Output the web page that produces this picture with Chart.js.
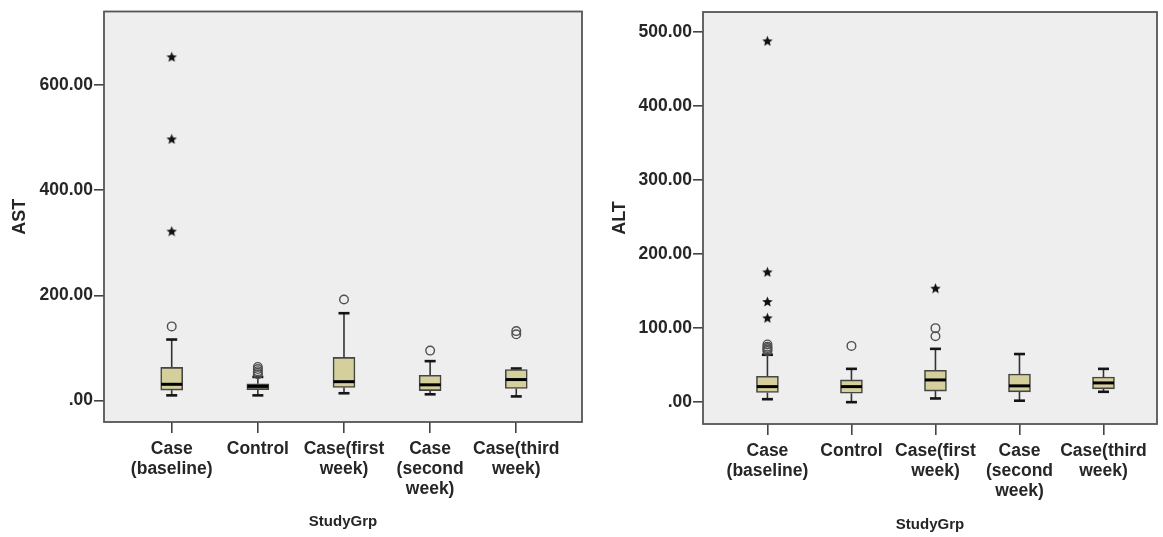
<!DOCTYPE html>
<html>
<head>
<meta charset="utf-8">
<script src="https://cdn.jsdelivr.net/npm/chart.js@4.4.1/dist/chart.umd.min.js"></script>
<style>
  html, body { margin: 0; padding: 0; background: #ffffff; }
  #wrap { position: relative; width: 1163px; height: 537px; overflow: hidden; }
  canvas { position: absolute; top: 0; }
  #ast { left: 0; }
  #alt { left: 588px; }
</style>
</head>
<body>
<div id="wrap">
  <canvas id="ast" width="588" height="537"></canvas>
  <canvas id="alt" width="575" height="537"></canvas>
</div>
<script>
// Study groups (x-axis categories, multi-line labels)
const groups = [
  ["Case", "(baseline)"],
  ["Control"],
  ["Case(first", "week)"],
  ["Case", "(second", "week)"],
  ["Case(third", "week)"]
];

// AST five-number summaries per group
const astLow    = [10, 10, 14, 12, 8];
const astQ1     = [20, 21, 25, 19, 23];
const astMedian = [31, 27, 36, 30, 40];
const astQ3     = [63, 32, 82, 48, 59];
const astHigh   = [116, 45, 166, 75, 61];
// AST outliers (circles) and extreme values (stars)
const astOutliers = [[141], [50, 53, 56, 60, 64], [192], [95], [126, 132]];
const astExtremes = [[322, 497, 653], [], [], [], []];
const astTicks = [0, 200, 400, 600];

// ALT five-number summaries per group
const altLow    = [4, 0, 5, 2, 14];
const altQ1     = [13, 12, 15, 14, 18];
const altMedian = [21, 21, 30, 22, 26];
const altQ3     = [35, 30, 43, 38, 34];
const altHigh   = [64, 45, 72, 65, 45];
// ALT outliers (circles) and extreme values (stars)
const altOutliers = [[69, 71, 73, 75, 78], [76], [89, 100], [], []];
const altExtremes = [[114, 136, 176, 488], [], [154], [], []];
const altTicks = [0, 100, 200, 300, 400, 500];

const FONT = "'Liberation Sans', Arial, Helvetica, sans-serif";
const TEXT = '#262626';
const BOX_FILL = '#d4cf9b';
const BOX_EDGE = '#454545';
const PLOT_BG = '#eeeeee';

// small filled five-point star used for extreme values
function starImage(size) {
  const c = document.createElement('canvas');
  c.width = c.height = size;
  const g = c.getContext('2d');
  const r = size / 2, ri = r * 0.45;
  g.beginPath();
  for (let k = 0; k < 10; k++) {
    const a = -Math.PI / 2 + k * Math.PI / 5;
    const rr = k % 2 ? ri : r;
    g.lineTo(r + rr * Math.cos(a), r + rr * Math.sin(a) + 0.6);
  }
  g.closePath();
  g.fillStyle = '#111';
  g.fill();
  return c;
}
const STAR = starImage(11);

function flatten(lists) {
  const pts = [];
  lists.forEach((vals, i) => vals.forEach(v => pts.push({ x: i, y: v })));
  return pts;
}

// plot background and frame
const plotFrame = {
  id: 'plotFrame',
  beforeDraw(chart) {
    const { ctx, chartArea: a } = chart;
    ctx.save();
    ctx.fillStyle = PLOT_BG;
    ctx.fillRect(a.left, a.top, a.right - a.left, a.bottom - a.top);
    ctx.restore();
  },
  afterDraw(chart) {
    const { ctx, chartArea: a } = chart;
    ctx.save();
    ctx.strokeStyle = '#555555';
    ctx.lineWidth = 1.8;
    ctx.strokeRect(a.left, a.top, a.right - a.left, a.bottom - a.top);
    ctx.restore();
  }
};

// whiskers (behind the boxes) and medians (on top of the boxes)
function boxParts(low, q3, q1, high, median) {
  return {
    id: 'boxParts',
    beforeDatasetsDraw(chart) {
      const { ctx, scales: { x, y } } = chart;
      ctx.save();
      low.forEach((lo, i) => {
        const cx = x.getPixelForValue(i);
        const half = 5.5;
        const segs = [[q3[i], high[i]], [q1[i], lo]];
        segs.forEach(([from, to]) => {
          ctx.strokeStyle = '#333333';
          ctx.lineWidth = 1.6;
          ctx.beginPath();
          ctx.moveTo(cx, y.getPixelForValue(from));
          ctx.lineTo(cx, y.getPixelForValue(to));
          ctx.stroke();
          ctx.strokeStyle = '#151515';
          ctx.lineWidth = 2.6;
          ctx.beginPath();
          ctx.moveTo(cx - half, y.getPixelForValue(to));
          ctx.lineTo(cx + half, y.getPixelForValue(to));
          ctx.stroke();
        });
      });
      ctx.restore();
    },
    afterDatasetDraw(chart, args) {
      if (args.index !== 0) return;
      const { ctx, scales: { x, y } } = chart;
      ctx.save();
      ctx.strokeStyle = '#000';
      ctx.lineWidth = 3;
      median.forEach((m, i) => {
        const cx = x.getPixelForValue(i);
        const py = y.getPixelForValue(m);
        ctx.beginPath();
        ctx.moveTo(cx - 10.5, py);
        ctx.lineTo(cx + 10.5, py);
        ctx.stroke();
      });
      ctx.restore();
    }
  };
}

function buildChart(id, s) {
  return new Chart(document.getElementById(id), {
    type: 'bar',
    data: {
      datasets: [
        {
          type: 'bar',
          data: groups.map((g, i) => ({ x: i, y: [s.q1[i], s.q3[i]] })),
          backgroundColor: BOX_FILL,
          borderColor: BOX_EDGE,
          borderWidth: 1.6,
          borderSkipped: false,
          barThickness: 22
        },
        {
          type: 'scatter',
          data: flatten(s.outliers),
          pointStyle: 'circle',
          pointRadius: 4.3,
          borderColor: '#505050',
          borderWidth: 1.4,
          backgroundColor: 'rgba(0,0,0,0)'
        },
        {
          type: 'scatter',
          data: flatten(s.extremes),
          pointStyle: STAR,
          pointRadius: 5
        }
      ]
    },
    options: {
      responsive: false,
      animation: false,
      events: [],
      layout: { padding: { top: s.padTop, right: s.padRight, left: 0, bottom: 0 } },
      plugins: { legend: { display: false }, tooltip: { enabled: false } },
      scales: {
        x: {
          type: 'linear',
          min: s.xMin,
          max: s.xMax,
          offset: false,
          afterBuildTicks: sc => { sc.ticks = groups.map((g, i) => ({ value: i })); },
          afterFit: sc => { sc.height = s.xHeight; },
          border: { display: false },
          grid: { offset: false, drawOnChartArea: false, tickLength: 11, color: '#444', lineWidth: 1.6 },
          ticks: {
            padding: 6,
            color: TEXT,
            maxRotation: 0,
            autoSkip: false,
            font: { family: FONT, size: 17.5, weight: 'bold', lineHeight: 1.15 },
            callback: v => groups[Math.round(v)]
          },
          title: {
            display: true,
            text: 'StudyGrp',
            color: TEXT,
            font: { family: FONT, size: 15, weight: 'bold' },
            padding: { top: 0, bottom: s.xTitlePad }
          }
        },
        y: {
          min: s.yMin,
          max: s.yMax,
          afterBuildTicks: sc => { sc.ticks = s.ticks.map(v => ({ value: v })); },
          afterFit: sc => { sc.width = s.yWidth; },
          border: { display: false },
          grid: { drawOnChartArea: false, tickLength: 10, color: '#444', lineWidth: 1.6 },
          ticks: {
            padding: 1,
            color: TEXT,
            font: { family: FONT, size: 17.5, weight: 'bold' },
            callback: v => (v === 0 ? '.00' : v.toFixed(2))
          },
          title: {
            display: true,
            text: s.title,
            color: TEXT,
            font: { family: FONT, size: 18, weight: 'bold' },
            padding: { top: s.yTitlePad, bottom: 0 }
          }
        }
      }
    },
    plugins: [plotFrame, boxParts(s.low, s.q3, s.q1, s.high, s.median)]
  });
}

buildChart('ast', {
  title: 'AST',
  low: astLow, q1: astQ1, median: astMedian, q3: astQ3, high: astHigh,
  outliers: astOutliers, extremes: astExtremes, ticks: astTicks,
  yMin: -40.6, yMax: 739,
  xMin: -0.786, xMax: 4.763,
  padTop: 11, padRight: 4,
  yWidth: 104, xHeight: 115,
  yTitlePad: 9, xTitlePad: 6
});

buildChart('alt', {
  title: 'ALT',
  low: altLow, q1: altQ1, median: altMedian, q3: altQ3, high: altHigh,
  outliers: altOutliers, extremes: altExtremes, ticks: altTicks,
  yMin: -29.5, yMax: 527,
  xMin: -0.767, xMax: 4.637,
  padTop: 12, padRight: 2,
  yWidth: 115, xHeight: 113,
  yTitlePad: 21, xTitlePad: 3
});
</script>
</body>
</html>
